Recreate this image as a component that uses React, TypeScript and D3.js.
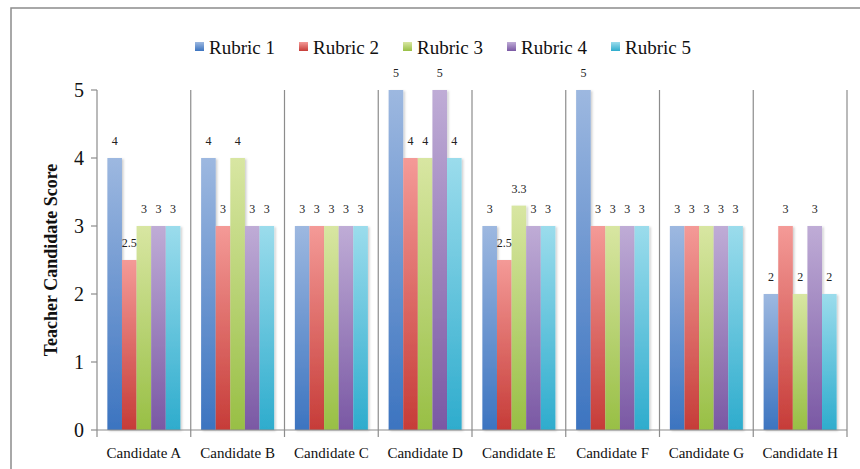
import React from 'react';
import * as d3 from 'd3';

const candidates = ['Candidate A', 'Candidate B', 'Candidate C', 'Candidate D', 'Candidate E', 'Candidate F', 'Candidate G', 'Candidate H'];
const rubrics = ['Rubric 1', 'Rubric 2', 'Rubric 3', 'Rubric 4', 'Rubric 5'];
const rubric1 = [4, 4, 3, 5, 3, 5, 3, 2];
const rubric2 = [2.5, 3, 3, 4, 2.5, 3, 3, 3];
const rubric3 = [3, 4, 3, 4, 3.3, 3, 3, 2];
const rubric4 = [3, 3, 3, 5, 3, 3, 3, 3];
const rubric5 = [3, 3, 3, 4, 3, 3, 3, 2];
const yTicks = [0, 1, 2, 3, 4, 5];

// light top / dark bottom, like the old Excel bars
const colors = [
  { top: '#9db8e0', bottom: '#3c74c0' },
  { top: '#f49a97', bottom: '#c63c38' },
  { top: '#d8e6a2', bottom: '#98bf45' },
  { top: '#bfacd6', bottom: '#7a58a4' },
  { top: '#9bdcec', bottom: '#2eaccd' },
];

const W = 860, H = 469;
const left = 97, right = 847, top = 90, bottom = 430;
const font = 'Liberation Serif';
const axisColor = '#8c8c8c';

const App = () => {
  const series = [rubric1, rubric2, rubric3, rubric4, rubric5];
  const x = d3.scaleBand().domain(candidates).range([left, right]).padding(0);
  const xs = d3.scaleBand().domain(rubrics).range([0, x.bandwidth()]).paddingInner(0).paddingOuter(0.71);
  const y = d3.scaleLinear().domain([0, 5]).range([bottom, top]);
  const txt = (size: number) => ({ fontFamily: font, fontSize: size });

  return (
    <svg width={W} height={H} style={{ position: 'absolute', left: 0, top: 0 }}>
      <defs>
        {colors.map((c, i) => (
          <linearGradient key={i} id={`grad${i}`} x1={0} y1={0} x2={0} y2={1}>
            <stop offset="0%" stopColor={c.top} />
            <stop offset="100%" stopColor={c.bottom} />
          </linearGradient>
        ))}
        <filter id="shadow" x="-20%" y="-5%" width="150%" height="115%">
          <feDropShadow dx={1.5} dy={1} stdDeviation={1} floodColor="#000" floodOpacity={0.2} />
        </filter>
      </defs>
      <rect width={W} height={H} fill="#fff" />
      {/* outer chart frame */}
      <rect x={11} y={8} width={W + 10} height={H + 10} fill="none" stroke={axisColor} strokeWidth={1.5} />

      {/* category separators */}
      {candidates.map(c => {
        const sx = x(c)! + x.bandwidth();
        return <line key={c} x1={sx} x2={sx} y1={top} y2={bottom + 7} stroke={axisColor} strokeWidth={1.2} />;
      })}

      {/* bars */}
      {candidates.map((c, ci) => rubrics.map((r, ri) => {
        const v = series[ri][ci];
        return (
          <rect key={c + r} x={x(c)! + xs(r)!} y={y(v)} width={xs.bandwidth()} height={bottom - y(v)}
            fill={`url(#grad${ri})`} filter="url(#shadow)" />
        );
      }))}

      {/* value labels */}
      {candidates.map((c, ci) => rubrics.map((r, ri) => {
        const v = series[ri][ci];
        return (
          <text key={'l' + c + r} x={x(c)! + xs(r)! + xs.bandwidth() / 2} y={y(v) - 13}
            textAnchor="middle" fill="#222" style={txt(12)}>{v}</text>
        );
      }))}

      {/* y axis */}
      <line x1={left} x2={left} y1={top} y2={bottom} stroke={axisColor} strokeWidth={1.2} />
      {yTicks.map(t => (
        <g key={t}>
          <line x1={left - 6} x2={left} y1={y(t)} y2={y(t)} stroke={axisColor} strokeWidth={1.2} />
          <text x={left - 13} y={y(t)} dy="0.35em" textAnchor="end" fill="#111" style={txt(20)}>{t}</text>
        </g>
      ))}
      <text transform={`translate(57,${(top + bottom) / 2}) rotate(-90)`} textAnchor="middle" fill="#111"
        style={{ ...txt(18), fontWeight: 'bold' }}>Teacher Candidate Score</text>

      {/* x axis */}
      <line x1={left} x2={right} y1={bottom} y2={bottom} stroke={axisColor} strokeWidth={1.2} />
      <line x1={left} x2={left} y1={bottom} y2={bottom + 7} stroke={axisColor} strokeWidth={1.2} />
      {candidates.map(c => (
        <text key={'x' + c} x={x(c)! + x.bandwidth() / 2} y={bottom + 28} textAnchor="middle" fill="#111"
          style={txt(15)}>{c}</text>
      ))}

      {/* legend */}
      {rubrics.map((r, i) => {
        const lx = 195 + i * 104;
        return (
          <g key={'g' + r}>
            <rect x={lx} y={42} width={9} height={9} fill={`url(#grad${i})`} />
            <text x={lx + 14} y={47} dy="0.35em" fill="#111" style={txt(19)}>{r}</text>
          </g>
        );
      })}
    </svg>
  );
};

export default App;
